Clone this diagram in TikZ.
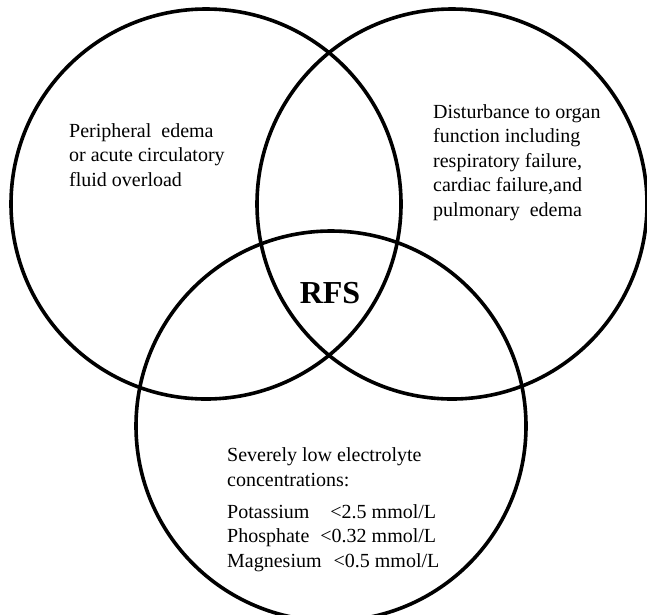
\documentclass[tikz,border=0pt]{standalone}
\usepackage{fontspec}
\setmainfont{Liberation Serif}
\begin{document}
\begin{tikzpicture}[x=1pt,y=-1pt,
   ring/.style={draw,circle,line width=3.6pt,minimum size=390pt,inner sep=0pt},
   txt/.style={anchor=base west,align=left,inner sep=0pt,font=\fontsize{20}{24.4}\selectfont}]
   \useasboundingbox (0,0) rectangle (647,614);
   \clip (0,0) rectangle (647,614);
   % the three sets
   \node[ring] (fluid) at (206,204) {};
   \node[ring] (organ) at (452,204) {};
   \node[ring] (lyte) at (331,426) {};
   % labels (base = last line)
   \node[txt] (fluidtxt) at (69,186) {Peripheral\ \ edema\\or acute circulatory\\fluid overload};
   \node[txt] (organtxt) at (433,216) {Disturbance to organ\\function including\\respiratory failure,\\cardiac failure,and\\pulmonary\ \ edema};
   \node[txt] (lytetxt) at (227,567) {Severely low electrolyte\\concentrations:\\[7.6pt]
      Potassium\hspace{21pt}<2.5 mmol/L\\Phosphate\hspace{11pt}<0.32 mmol/L\\Magnesium\hspace{12pt}<0.5 mmol/L};
   \node[anchor=base,inner sep=0pt,font=\fontsize{32}{36}\selectfont\bfseries] (rfs) at (330,303) {RFS};
\end{tikzpicture}
\end{document}
